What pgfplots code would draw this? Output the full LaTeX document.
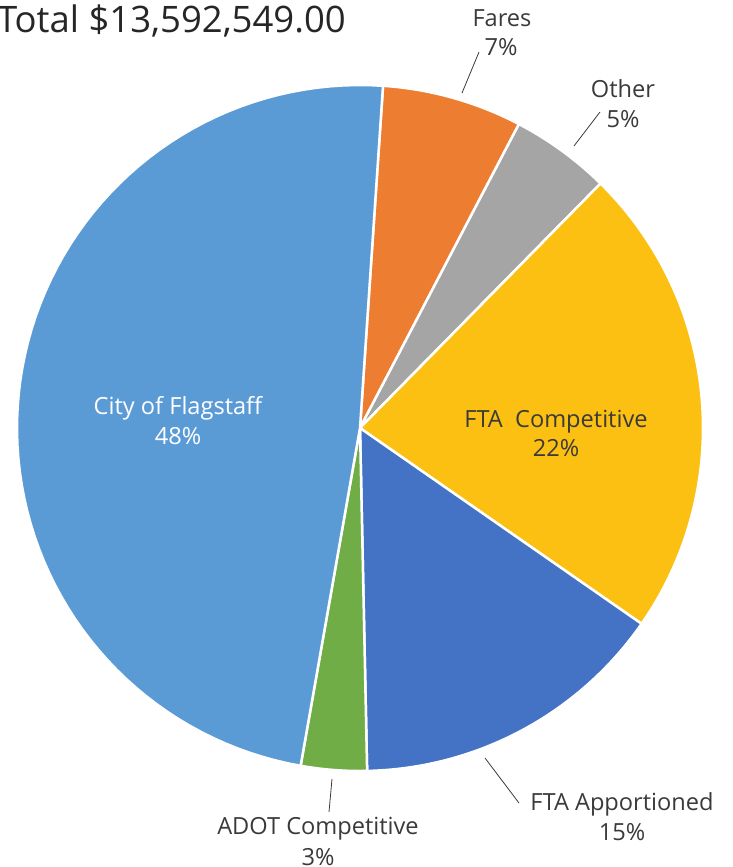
\documentclass[border=0pt]{standalone}
\usepackage{pgfplots}
\pgfplotsset{compat=1.18}
\usepackage{fontspec}
\setmainfont{Open Sans}
\definecolor{cCity}{HTML}{5B9BD5}
\definecolor{cFares}{HTML}{ED7D31}
\definecolor{cOther}{HTML}{A5A5A5}
\definecolor{cComp}{HTML}{FBC012}
\definecolor{cApp}{HTML}{4472C4}
\definecolor{cAdot}{HTML}{70AD47}
\definecolor{txt}{HTML}{3A3A3A}
% shares in percent (clockwise from the top)
\def\vFares{6.6}
\def\vOther{4.7}
\def\vComp{22.3}
\def\vApp{15.0}
\def\vAdot{3.1}
\def\vCity{48.3}
\pgfmathsetmacro\aA{86.15}
\pgfmathsetmacro\aB{\aA-3.6*\vFares}
\pgfmathsetmacro\aC{\aB-3.6*\vOther}
\pgfmathsetmacro\aD{\aC-3.6*\vComp}
\pgfmathsetmacro\aE{\aD-3.6*\vApp}
\pgfmathsetmacro\aF{\aE-3.6*\vAdot}
\pgfmathsetmacro\aG{\aF-3.6*\vCity}
\newcommand\wedgeplot[3]{\addplot[fill=#1, draw=white, line width=2.5pt, line join=round, domain=#2:#3, samples=80, variable=\t] ({360+343*cos(\t)},{-428+343*sin(\t)}) -- (axis cs:360,-428) -- cycle;}
\begin{document}
\begin{tikzpicture}
\path[use as bounding box] (0,0) rectangle (732pt,-867pt);
\clip (0,0) rectangle (732pt,-867pt);
\begin{axis}[x=1pt, y=1pt, xmin=0, xmax=732, ymin=-867, ymax=0, hide axis, clip=false, anchor=origin, at={(0pt,0pt)}]
\wedgeplot{cFares}{\aB}{\aA}
\wedgeplot{cOther}{\aC}{\aB}
\wedgeplot{cComp}{\aD}{\aC}
\wedgeplot{cApp}{\aE}{\aD}
\wedgeplot{cAdot}{\aF}{\aE}
\wedgeplot{cCity}{\aG}{\aF}
% leader lines
\addplot[txt, line width=0.8pt] coordinates {(479,-52) (462,-93)};
\addplot[txt, line width=0.8pt] coordinates {(600,-112) (574,-146)};
\addplot[txt, line width=0.8pt] coordinates {(485,-758) (519,-803)};
\addplot[txt, line width=0.8pt] coordinates {(332,-779) (329,-812)};
% texts
\node[anchor=base east, font=\fontsize{36.5}{40}\selectfont, text=black!85, inner sep=0pt] at (axis cs:346,-33) {Total \$13,592,549.00};
\tikzset{lab/.style={anchor=base, font=\fontsize{23.6}{28}\selectfont, text=txt, inner sep=0pt}}
\node[lab] at (axis cs:502,-27) {Fares};
\node[lab] at (axis cs:501,-56) {7\%};
\node[lab] at (axis cs:623,-97) {Other};
\node[lab] at (axis cs:623,-127) {5\%};
\node[lab, text=white] at (axis cs:178,-414) {City of Flagstaff};
\node[lab, text=white] at (axis cs:178,-444) {48\%};
\node[lab] at (axis cs:556,-427) {FTA\ \ Competitive};
\node[lab] at (axis cs:556,-456) {22\%};
\node[lab] at (axis cs:622,-810) {FTA Apportioned};
\node[lab] at (axis cs:622,-840) {15\%};
\node[lab] at (axis cs:318,-834) {ADOT Competitive};
\node[lab] at (axis cs:318,-865) {3\%};
\end{axis}
\end{tikzpicture}
\end{document}
